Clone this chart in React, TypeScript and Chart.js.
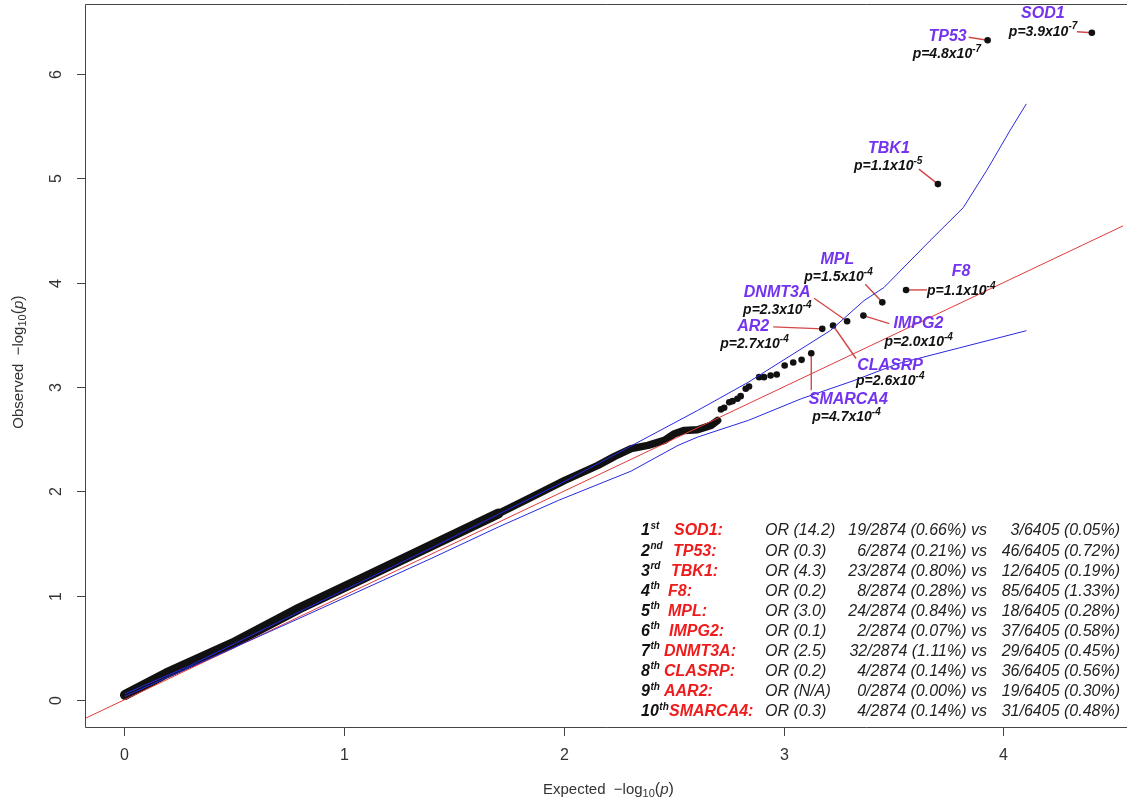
import React, { useEffect, useRef } from 'react';
import { Chart, registerables } from 'chart.js';

Chart.register(...registerables);

// ---------- axes ----------
const X_TICKS = [0, 1, 2, 3, 4];
const Y_TICKS = [0, 1, 2, 3, 4, 5, 6];
const X_MIN = -0.1767;
const X_MAX = 4.5436;
const Y_MIN = -0.2584;
const Y_MAX = 6.67;

// ---------- dense body of overlapping points (expected, observed) ----------
const bandExpected = [0.005, 0.193, 0.495, 0.797, 1.099, 1.401, 1.703, 1.854, 2.005, 2.156, 2.232, 2.307, 2.383, 2.458, 2.504, 2.549, 2.609, 2.67, 2.7];
const bandObserved = [0.048, 0.255, 0.543, 0.877, 1.18, 1.483, 1.787, 1.945, 2.105, 2.249, 2.335, 2.409, 2.44, 2.488, 2.552, 2.584, 2.59, 2.632, 2.679];
const BAND_SPLIT = 6; // index where the body gets thinner

// ---------- individual tail points ----------
const tailExpected = [2.715, 2.73, 2.753, 2.768, 2.79, 2.805, 2.828, 2.843, 2.889, 2.911, 2.941, 2.969, 3.005, 3.044, 3.082, 3.126, 3.176, 3.225, 3.289, 3.363, 3.449, 3.557, 3.702, 3.928, 4.402];
const tailObserved = [2.785, 2.801, 2.854, 2.864, 2.887, 2.912, 2.983, 3.005, 3.094, 3.094, 3.11, 3.12, 3.206, 3.234, 3.26, 3.323, 3.557, 3.589, 3.63, 3.684, 3.811, 3.93, 4.944, 6.322, 6.395];

// ---------- confidence band ----------
const ciUpperExpected = [0.005, 0.3, 0.797, 1.401, 1.703, 2.0, 2.24, 2.609, 2.84, 3.213, 3.366, 3.456, 3.666, 3.817, 3.923, 4.029, 4.104];
const ciUpper = [0.06, 0.33, 0.845, 1.46, 1.78, 2.09, 2.36, 2.775, 3.046, 3.541, 3.828, 3.952, 4.402, 4.718, 5.072, 5.455, 5.713];
const ciLowerExpected = [0.005, 0.797, 1.401, 1.703, 1.977, 2.307, 2.52, 2.609, 2.84, 3.08, 3.321, 3.518, 3.8, 4.104];
const ciLower = [0.035, 0.782, 1.36, 1.658, 1.914, 2.194, 2.44, 2.52, 2.68, 2.887, 3.062, 3.222, 3.375, 3.539];

// ---------- y = x reference ----------
const diagonal = [-1, 6];

// ---------- annotated genes ----------
const labelGenes = ['SOD1', 'TP53', 'TBK1', 'F8', 'MPL', 'IMPG2', 'DNMT3A', 'CLASRP', 'AR2', 'SMARCA4'];
const labelPMantissa = ['3.9', '4.8', '1.1', '1.1', '1.5', '2.0', '2.3', '2.6', '2.7', '4.7'];
const labelPExponent = ['-7', '-7', '-5', '-4', '-4', '-4', '-4', '-4', '-4', '-4'];
const labelTailIndex = [24, 23, 22, 21, 20, 19, 18, 17, 16, 15];
// layout offsets (px) from the point: name centre, p-text left, leader start
const labelLayout = [
  { nx: -49, ny: -19, px: -83, py: -1, lx: -15, ly: -1 },
  { nx: -40, ny: -4, px: -75, py: 14, lx: -19, ly: -3 },
  { nx: -49, ny: -36, px: -84, py: -18, lx: -19, ly: -15 },
  { nx: 55, ny: -18, px: 21, py: 1, lx: 21, ly: 0 },
  { nx: -45, ny: -43, px: -78, py: -25, lx: -17, ly: -18 },
  { nx: 55, ny: 8, px: 21, py: 27, lx: 26, ly: 8 },
  { nx: -70, ny: -29, px: -104, py: -11, lx: -33, ly: -23 },
  { nx: 57, ny: 40, px: 23, py: 56, lx: 23, ly: 33 },
  { nx: -69, ny: -2, px: -102, py: 15, lx: -49, ly: -2 },
  { nx: 37, ny: 46, px: 1, py: 64, lx: 0, ly: 37 },
];

// ---------- table ----------
const tableRank = ['1', '2', '3', '4', '5', '6', '7', '8', '9', '10'];
const tableRankSuffix = ['st', 'nd', 'rd', 'th', 'th', 'th', 'th', 'th', 'th', 'th'];
const tableGenes = ['SOD1', 'TP53', 'TBK1', 'F8', 'MPL', 'IMPG2', 'DNMT3A', 'CLASRP', 'AAR2', 'SMARCA4'];
const tableOR = ['14.2', '0.3', '4.3', '0.2', '3.0', '0.1', '2.5', '0.2', 'N/A', '0.3'];
const caseCounts = [19, 6, 23, 8, 24, 2, 32, 4, 0, 4];
const casePct = ['0.66', '0.21', '0.80', '0.28', '0.84', '0.07', '1.11', '0.14', '0.00', '0.14'];
const ctrlCounts = [3, 46, 12, 85, 18, 37, 29, 36, 19, 31];
const ctrlPct = ['0.05', '0.72', '0.19', '1.33', '0.28', '0.58', '0.45', '0.56', '0.30', '0.48'];
const CASE_TOTAL = 2874;
const CTRL_TOTAL = 6405;
const tableNameX = [674, 673, 671, 668, 668, 669, 664, 664, 664, 669];

const FONT = '"Liberation Sans", Arial, Helvetica, sans-serif';
const BLUE = '#2828e0';
const RED_LINE = '#e03a3a';
const LEADER = '#d24848';
const PURPLE = '#7433ee';
const TABLE_RED = '#ee1c1c';
const AXIS_TEXT = '#333333';

type Seg = { t: string; font: string; dy?: number; color?: string };

function drawRich(ctx: CanvasRenderingContext2D, segs: Seg[], x: number, y: number, align: 'left' | 'center') {
  let total = 0;
  for (const s of segs) {
    ctx.font = s.font;
    total += ctx.measureText(s.t).width;
  }
  let cx = align === 'center' ? x - total / 2 : x;
  ctx.textAlign = 'left';
  for (const s of segs) {
    ctx.font = s.font;
    if (s.color) ctx.fillStyle = s.color;
    ctx.fillText(s.t, cx, y + (s.dy || 0));
    cx += ctx.measureText(s.t).width;
  }
}

const qqPlugin = {
  id: 'qqDecor',
  beforeDatasetsDraw(chart: any) {
    const ctx: CanvasRenderingContext2D = chart.ctx;
    const xs = chart.scales.x;
    const ys = chart.scales.y;
    ctx.save();
    ctx.strokeStyle = LEADER;
    ctx.lineWidth = 1.4;
    labelGenes.forEach((_, i) => {
      const k = labelTailIndex[i];
      const px = xs.getPixelForValue(tailExpected[k]);
      const py = ys.getPixelForValue(tailObserved[k]);
      const L = labelLayout[i];
      ctx.beginPath();
      ctx.moveTo(px + L.lx, py + L.ly);
      ctx.lineTo(px, py);
      ctx.stroke();
    });
    ctx.restore();
  },
  afterDatasetsDraw(chart: any) {
    const ctx: CanvasRenderingContext2D = chart.ctx;
    const xs = chart.scales.x;
    const ys = chart.scales.y;
    ctx.save();
    ctx.textBaseline = 'middle';
    labelGenes.forEach((g, i) => {
      const k = labelTailIndex[i];
      const px = xs.getPixelForValue(tailExpected[k]);
      const py = ys.getPixelForValue(tailObserved[k]);
      const L = labelLayout[i];
      ctx.fillStyle = PURPLE;
      ctx.font = `italic bold 16px ${FONT}`;
      ctx.textAlign = 'center';
      ctx.fillText(g, px + L.nx, py + L.ny);
      ctx.fillStyle = '#111';
      drawRich(ctx, [
        { t: `p=${labelPMantissa[i]}x10`, font: `italic bold 14px ${FONT}` },
        { t: labelPExponent[i], font: `italic bold 10px ${FONT}`, dy: -5 },
      ], px + L.px, py + L.py, 'left');
    });
    ctx.restore();
  },
  afterDraw(chart: any) {
    const ctx: CanvasRenderingContext2D = chart.ctx;
    const xs = chart.scales.x;
    const ys = chart.scales.y;
    const a = chart.chartArea;
    ctx.save();
    // frame (left, top, bottom)
    ctx.strokeStyle = '#444';
    ctx.lineWidth = 1;
    ctx.beginPath();
    ctx.moveTo(chart.width, a.top + 0.5);
    ctx.lineTo(a.left + 0.5, a.top + 0.5);
    ctx.lineTo(a.left + 0.5, a.bottom + 0.5);
    ctx.lineTo(chart.width, a.bottom + 0.5);
    ctx.stroke();
    // x ticks
    ctx.fillStyle = AXIS_TEXT;
    ctx.font = `16px ${FONT}`;
    ctx.textAlign = 'center';
    ctx.textBaseline = 'middle';
    X_TICKS.forEach((v) => {
      const px = Math.round(xs.getPixelForValue(v)) + 0.5;
      ctx.beginPath();
      ctx.moveTo(px, a.bottom);
      ctx.lineTo(px, a.bottom + 9);
      ctx.stroke();
      ctx.fillText(String(v), px, 756);
    });
    // y ticks (rotated labels)
    Y_TICKS.forEach((v) => {
      const py = Math.round(ys.getPixelForValue(v)) + 0.5;
      ctx.beginPath();
      ctx.moveTo(a.left - 8, py);
      ctx.lineTo(a.left, py);
      ctx.stroke();
      ctx.save();
      ctx.translate(57, py);
      ctx.rotate(-Math.PI / 2);
      ctx.fillText(String(v), 0, 0);
      ctx.restore();
    });
    // axis titles
    const title = (w: string): Seg[] => [
      { t: `${w}  \u2212log`, font: `15px ${FONT}` },
      { t: '10', font: `11px ${FONT}`, dy: 4 },
      { t: '(', font: `16px ${FONT}` },
      { t: 'p', font: `italic 15px ${FONT}` },
      { t: ')', font: `16px ${FONT}` },
    ];
    ctx.fillStyle = AXIS_TEXT;
    drawRich(ctx, title('Expected'), (a.left + xs.getPixelForValue(X_MAX + 0.04)) / 2, 790, 'center');
    ctx.save();
    ctx.translate(19, 362);
    ctx.rotate(-Math.PI / 2);
    drawRich(ctx, title('Observed'), 0, 0, 'center');
    ctx.restore();

    // summary table
    const ROW0 = 531;
    const STEP = 20.1;
    tableGenes.forEach((g, i) => {
      const y = ROW0 + i * STEP;
      ctx.textAlign = 'left';
      ctx.fillStyle = '#111';
      ctx.font = `italic bold 16px ${FONT}`;
      ctx.fillText(tableRank[i], 641, y);
      const w = ctx.measureText(tableRank[i]).width;
      ctx.font = `italic bold 10px ${FONT}`;
      ctx.fillText(tableRankSuffix[i], 641 + w + 0.5, y - 5);
      ctx.fillStyle = TABLE_RED;
      ctx.font = `italic bold 16px ${FONT}`;
      ctx.fillText(`${g}:`, tableNameX[i], y);
      ctx.fillStyle = '#222';
      ctx.font = `italic 16px ${FONT}`;
      ctx.fillText(`OR (${tableOR[i]})`, 765, y);
      ctx.textAlign = 'right';
      ctx.fillText(`${caseCounts[i]}/${CASE_TOTAL} (${casePct[i]}%) vs`, 987, y);
      ctx.fillText(`${ctrlCounts[i]}/${CTRL_TOTAL} (${ctrlPct[i]}%)`, 1120, y);
    });
    ctx.restore();
  },
};

function pts(xa: number[], ya: number[]) {
  return xa.map((x, i) => ({ x, y: ya[i] }));
}

export default function App() {
  const ref = useRef<HTMLCanvasElement | null>(null);
  useEffect(() => {
    if (!ref.current) return;
    const band = pts(bandExpected, bandObserved);
    const chart = new Chart(ref.current, {
      type: 'scatter',
      data: {
        datasets: [
          { label: 'upper', data: pts(ciUpperExpected, ciUpper), showLine: true, borderColor: BLUE, borderWidth: 1, pointRadius: 0, order: 0 } as any,
          { label: 'lower', data: pts(ciLowerExpected, ciLower), showLine: true, borderColor: BLUE, borderWidth: 1, pointRadius: 0, order: 0 } as any,
          { label: 'diag', data: diagonal.map((v) => ({ x: v, y: v })), showLine: true, borderColor: RED_LINE, borderWidth: 1, pointRadius: 0, order: 1 } as any,
          { label: 'tail', data: pts(tailExpected, tailObserved), pointRadius: 3.3, backgroundColor: '#111', borderWidth: 0, order: 2 } as any,
          { label: 'bandHigh', data: band.slice(BAND_SPLIT), showLine: true, borderColor: '#111', borderWidth: 7.5, pointRadius: 0, borderCapStyle: 'round', borderJoinStyle: 'round', order: 2 } as any,
          { label: 'bandLow', data: band.slice(0, BAND_SPLIT + 1), showLine: true, borderColor: '#111', borderWidth: 10, pointRadius: 0, borderCapStyle: 'round', borderJoinStyle: 'round', order: 2 } as any,
        ],
      },
      options: {
        responsive: false,
        animation: false,
        devicePixelRatio: 1,
        events: [],
        layout: { padding: { left: 85, top: 3, right: 0, bottom: 75 } },
        scales: {
          x: { type: 'linear', min: X_MIN, max: X_MAX, display: false },
          y: { type: 'linear', min: Y_MIN, max: Y_MAX, display: false },
        },
        plugins: { legend: { display: false }, tooltip: { enabled: false }, title: { display: false } },
      },
      plugins: [qqPlugin],
    });
    return () => chart.destroy();
  }, []);
  return (
    <div style={{ position: 'absolute', left: 0, top: 0, width: 1127, height: 802, background: '#fff' }}>
      <canvas ref={ref} width={1127} height={802} style={{ display: 'block' }} />
    </div>
  );
}
